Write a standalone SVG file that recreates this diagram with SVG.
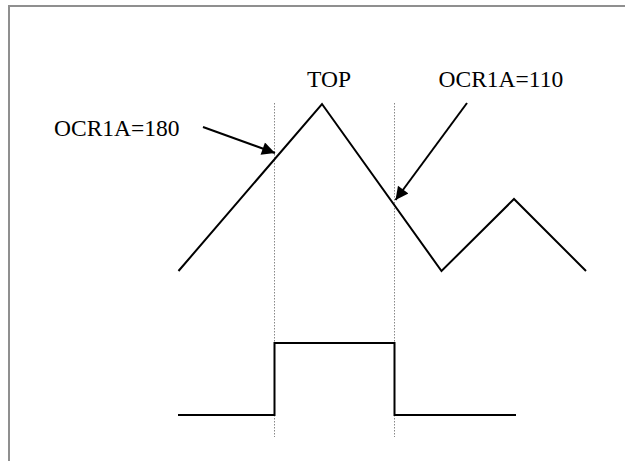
<svg xmlns="http://www.w3.org/2000/svg" width="625" height="461" viewBox="0 0 625 461">
  <style>
    .frame{fill:none;stroke:#8f8f8f;stroke-width:2}
    .wave{fill:none;stroke:#000;stroke-width:2;stroke-linejoin:miter}
    .guide{fill:none;stroke:#888;stroke-width:1;stroke-dasharray:1.5 1.5}
    .arrow{fill:none;stroke:#000;stroke-width:2}
    .lbl{font-family:"Liberation Serif","Times New Roman",serif;font-size:23.5px;fill:#000}
  </style>
  <defs>
    <marker id="ah" viewBox="0 0 10 10" refX="10" refY="5" markerWidth="9" markerHeight="6.5" markerUnits="strokeWidth" orient="auto">
      <path d="M0,0 L10,5 L0,10 z" fill="#000"/>
    </marker>
  </defs>
  <rect width="625" height="461" fill="#fff"/>
  <g id="frame">
    <path class="frame" d="M9,461 L9,6 L625,6"/>
  </g>
  <g id="guides">
    <line class="guide" x1="274.5" y1="103" x2="274.5" y2="437"/>
    <line class="guide" x1="394.5" y1="103" x2="394.5" y2="437"/>
  </g>
  <g id="counter">
    <polyline class="wave" points="178.5,271 322,104 441.5,271 514,199 586,271"/>
  </g>
  <g id="output">
    <polyline class="wave" points="178,415 274.5,415 274.5,343 394.5,343 394.5,415 516,415"/>
  </g>
  <g id="connectors">
    <line class="arrow" x1="203" y1="127" x2="275" y2="153" marker-end="url(#ah)"/>
    <line class="arrow" x1="467" y1="103" x2="395.5" y2="200" marker-end="url(#ah)"/>
  </g>
  <g id="label-180"><text class="lbl" x="54" y="136">OCR1A=180</text></g>
  <g id="label-top"><text class="lbl" x="307" y="87">TOP</text></g>
  <g id="label-110"><text class="lbl" x="438.5" y="87">OCR1A=110</text></g>
</svg>
